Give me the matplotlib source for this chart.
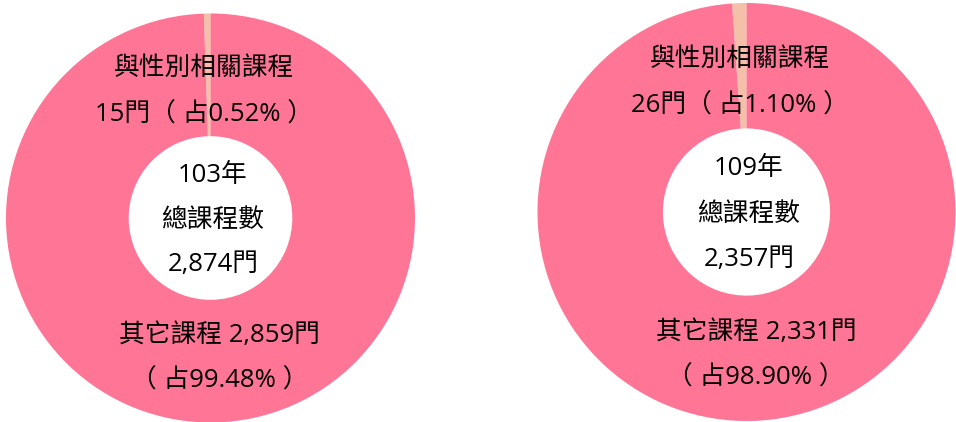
import matplotlib
matplotlib.use('Agg')
import matplotlib.pyplot as plt

plt.rcParams['font.family'] = ['Open Sans', 'Noto Sans CJK TC', 'DejaVu Sans']

# data
years = ['103年', '109年']
gender_courses = [15, 26]
other_courses = [2859, 2331]
gender_pct = ['0.52%', '1.10%']
other_pct = ['99.48%', '98.90%']

colors = ['#F5C0AA', '#FF7596']

W, H = 956, 422
fig = plt.figure(figsize=(W / 100, H / 100), dpi=100)

# donut centre and radius in pixels (from the reference layout)
layout = [(210.5, 218, 204.5), (746.5, 212, 209)]

for i, (cx, cy, r) in enumerate(layout):
    ax = fig.add_axes([(cx - r) / W, (H - cy - r) / H, 2 * r / W, 2 * r / H])
    ax.pie([gender_courses[i], other_courses[i]], colors=colors,
           startangle=90, counterclock=True, radius=1,
           wedgeprops=dict(width=0.6, linewidth=0))
    ax.set_xlim(-1, 1)
    ax.set_ylim(-1, 1)
    ax.set_aspect('equal')
    ax.axis('off')

    total = gender_courses[i] + other_courses[i]
    fs = 18.5
    ax.text(-0.03, 0.73, '與性別相關課程', ha='center', va='center', fontsize=fs)
    ax.text(-0.03, 0.505, f'{gender_courses[i]}門（ 占{gender_pct[i]} ）',
            ha='center', va='center', fontsize=fs)
    ax.text(0.012, 0.21, years[i], ha='center', va='center', fontsize=fs)
    ax.text(0.012, -0.01, '總課程數', ha='center', va='center', fontsize=fs)
    ax.text(0.012, -0.225, f'{total:,}門', ha='center', va='center', fontsize=fs)
    ax.text(0.045, -0.575, f'其它課程 {other_courses[i]:,}門',
            ha='center', va='center', fontsize=fs)
    ax.text(0.045, -0.795, f'（ 占{other_pct[i]} ）',
            ha='center', va='center', fontsize=fs)

fig.savefig('out.png', dpi=100)
